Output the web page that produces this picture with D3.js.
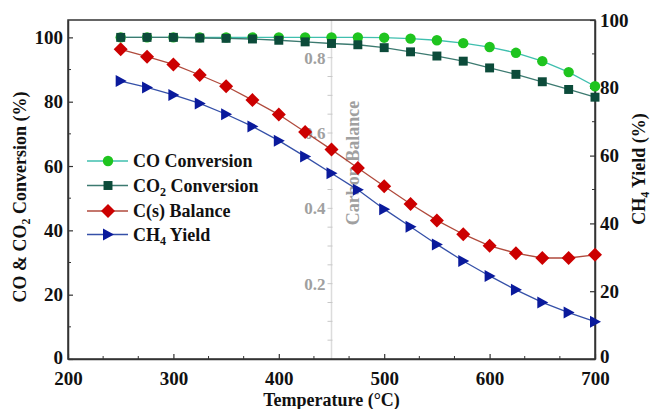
<!DOCTYPE html>
<html><head><meta charset="utf-8">
<script src="https://cdn.jsdelivr.net/npm/d3@7"></script>
<style>body{margin:0;background:#fff}svg{display:block}text{font-family:"Liberation Serif","Times New Roman",serif;font-weight:bold}</style>
</head><body>
<svg id="c" width="653" height="409"></svg>
<script>
const temps = [250,275,300,325,350,375,400,425,450,475,500,525,550,575,600,625,650,675,700];
const coConv = [100,100,100,100,100,100,100,100,100,100,99.9,99.6,99.1,98.2,97.0,95.2,92.6,89.2,84.8];
const co2Conv = [100,100,100,99.8,99.7,99.5,99.1,98.6,98.1,97.7,96.8,95.5,94.2,92.6,90.5,88.5,86.2,83.8,81.4];
const csBalance = [96.3,94.0,91.6,88.3,84.8,80.5,76.0,70.6,65.1,59.4,53.7,48.2,43.1,38.8,35.2,32.9,31.4,31.4,32.4];
const ch4Yield = [82.0,80.1,77.9,75.4,72.2,68.6,64.4,59.7,54.8,49.9,44.2,39.0,33.8,28.9,24.5,20.4,16.7,13.7,11.0];
const xTicks = [200,300,400,500,600,700];
const leftTicks = [0,20,40,60,80,100];
const rightTicks = [0,20,40,60,80,100];
const cbTicks = [0.2,0.4,0.6,0.8];
const legendLabels = ["CO Conversion","CO2 Conversion","C(s) Balance","CH4 Yield"];

const svg = d3.select("#c");
const L=68, R=595, T=20, B=359;
const x = d3.scaleLinear().domain([200,700]).range([L,R]);
const yL = d3.scaleLinear().domain([0,105.4]).range([B,T]);
const yR = d3.scaleLinear().domain([0,100]).range([B,T]);
const yC = d3.scaleLinear().domain([0,0.9]).range([B,T]);
const axisCol = "#333";

// Carbon balance gray axis at 450
const gx = x(450);
const cb = svg.append("g").attr("transform",`translate(${gx},0)`);
cb.call(d3.axisLeft(yC).tickValues(cbTicks).tickSize(0).tickFormat(d3.format(".1f")).tickPadding(6))
  .call(g=>g.select(".domain").remove());
cb.selectAll("text").attr("fill","#a0a0a0").style("font-size","17px");
cb.append("line").attr("y1",T).attr("y2",B).attr("stroke","#dcdcdc").attr("stroke-width",1.5);
cb.selectAll("line.mt").data(d3.range(0.05,0.9,0.05)).join("line").attr("class","mt")
  .attr("x1",-4).attr("x2",1).attr("y1",d=>yC(d)).attr("y2",d=>yC(d)).attr("stroke","#c8c8c8");
svg.append("text").attr("transform",`translate(${gx+27},163) rotate(-90)`).attr("text-anchor","middle")
  .attr("fill","#a0a0a0").style("font-size","18px").text("Carbon Balance");

// frame
svg.append("rect").attr("x",L).attr("y",T).attr("width",R-L).attr("height",B-T).attr("fill","none").attr("stroke",axisCol).attr("stroke-width",1.5);

// axes
function styleAxis(g){g.select(".domain").attr("stroke",axisCol).attr("stroke-width",1.5);g.selectAll(".tick line").attr("stroke",axisCol).attr("stroke-width",1.2);g.selectAll("text").attr("fill","#111").style("font-size","19px");}
const xa = svg.append("g").attr("transform",`translate(0,${B})`)
  .call(d3.axisBottom(x).tickValues(xTicks).tickSizeInner(-5).tickSizeOuter(0).tickPadding(13)).call(styleAxis);
xa.selectAll("line.mn").data(d3.range(200,700,100/3).filter(v=>v%100>1&&v%100<99)).join("line").attr("class","mn")
  .attr("x1",d=>x(d)).attr("x2",d=>x(d)).attr("y1",0).attr("y2",-3).attr("stroke",axisCol);
const yla = svg.append("g").attr("transform",`translate(${L},0)`)
  .call(d3.axisLeft(yL).tickValues(leftTicks).tickSizeInner(-5).tickSizeOuter(0).tickPadding(5)).call(styleAxis);
yla.selectAll("line.mn").data([10,30,50,70,90]).join("line").attr("class","mn")
  .attr("x1",0).attr("x2",3).attr("y1",d=>yL(d)).attr("y2",d=>yL(d)).attr("stroke",axisCol);
const yra = svg.append("g").attr("transform",`translate(${R},0)`)
  .call(d3.axisRight(yR).tickValues(rightTicks).tickSizeInner(-5).tickSizeOuter(0).tickPadding(5)).call(styleAxis);
yra.selectAll(".tick text").filter(d=>d===0).attr("y",-3);
yla.selectAll(".tick text").filter(d=>d===0).attr("y",-2);
yra.selectAll("line.mn").data([10,30,50,70,90]).join("line").attr("class","mn")
  .attr("x1",0).attr("x2",-3).attr("y1",d=>yR(d)).attr("y2",d=>yR(d)).attr("stroke",axisCol);

// titles
svg.append("text").attr("x",(L+R)/2).attr("y",406).attr("text-anchor","middle").style("font-size","18px").attr("fill","#111").text("Temperature (°C)");
const lt = svg.append("text").attr("transform","translate(26,197) rotate(-90)").attr("text-anchor","middle").style("font-size","18px").attr("fill","#111");
lt.append("tspan").text("CO & CO");
lt.append("tspan").attr("dy",4).style("font-size","12px").text("2");
lt.append("tspan").attr("dy",-4).text(" Conversion (%)");
const rt = svg.append("text").attr("transform","translate(645,169) rotate(-90)").attr("text-anchor","middle").style("font-size","18px").attr("fill","#111");
rt.append("tspan").text("CH");
rt.append("tspan").attr("dy",4).style("font-size","12px").text("4");
rt.append("tspan").attr("dy",-4).text(" Yield (%)");

// series
const series = [
  {vals:coConv, y:yL, line:"#3fbfae", fill:"#1fc41f", shape:d3.symbolCircle, size:85},
  {vals:co2Conv, y:yL, line:"#3c7a70", fill:"#0c4b3a", shape:d3.symbolSquare, size:80},
  {vals:csBalance, y:yL, line:"#b04a3c", fill:"#cc0000", shape:d3.symbolDiamond, size:90},
  {vals:ch4Yield, y:yR, line:"#3550a8", fill:"#0a1a9c", shape:"tri", size:80}
];
function sym(s, sz){
  if(s==="tri") return "M-5,-6L6,0L-5,6Z";
  if(s===d3.symbolDiamond) return "M0,-7L7,0L0,7L-7,0Z";
  return d3.symbol().type(s).size(sz)();
}
series.forEach(s=>{
  const pts = temps.map((t,i)=>[x(t), s.y(s.vals[i])]);
  svg.append("path").attr("d",d3.line()(pts)).attr("fill","none").attr("stroke",s.line).attr("stroke-width",1.3);
  svg.append("g").selectAll("path").data(pts).join("path").attr("transform",d=>`translate(${d[0]},${d[1]})`)
    .attr("d",sym(s.shape,s.size)).attr("fill",s.fill);
});

// legend
const legY = [161,185.5,211,234.5];
series.forEach((s,i)=>{
  const g = svg.append("g").attr("transform",`translate(0,${legY[i]})`);
  g.append("line").attr("x1",87).attr("x2",128).attr("stroke",s.line).attr("stroke-width",1.3);
  g.append("path").attr("transform","translate(108,0)").attr("d",sym(s.shape,s.size)).attr("fill",s.fill);
  const t = g.append("text").attr("x",133).attr("y",6).style("font-size","18px").attr("fill","#111");
  const lab = legendLabels[i];
  if(lab==="CO2 Conversion"){t.append("tspan").text("CO");t.append("tspan").attr("dy",4).style("font-size","12px").text("2");t.append("tspan").attr("dy",-4).text(" Conversion");}
  else if(lab==="CH4 Yield"){t.append("tspan").text("CH");t.append("tspan").attr("dy",4).style("font-size","12px").text("4");t.append("tspan").attr("dy",-4).text(" Yield");}
  else t.text(lab);
});
</script>
</body></html>
